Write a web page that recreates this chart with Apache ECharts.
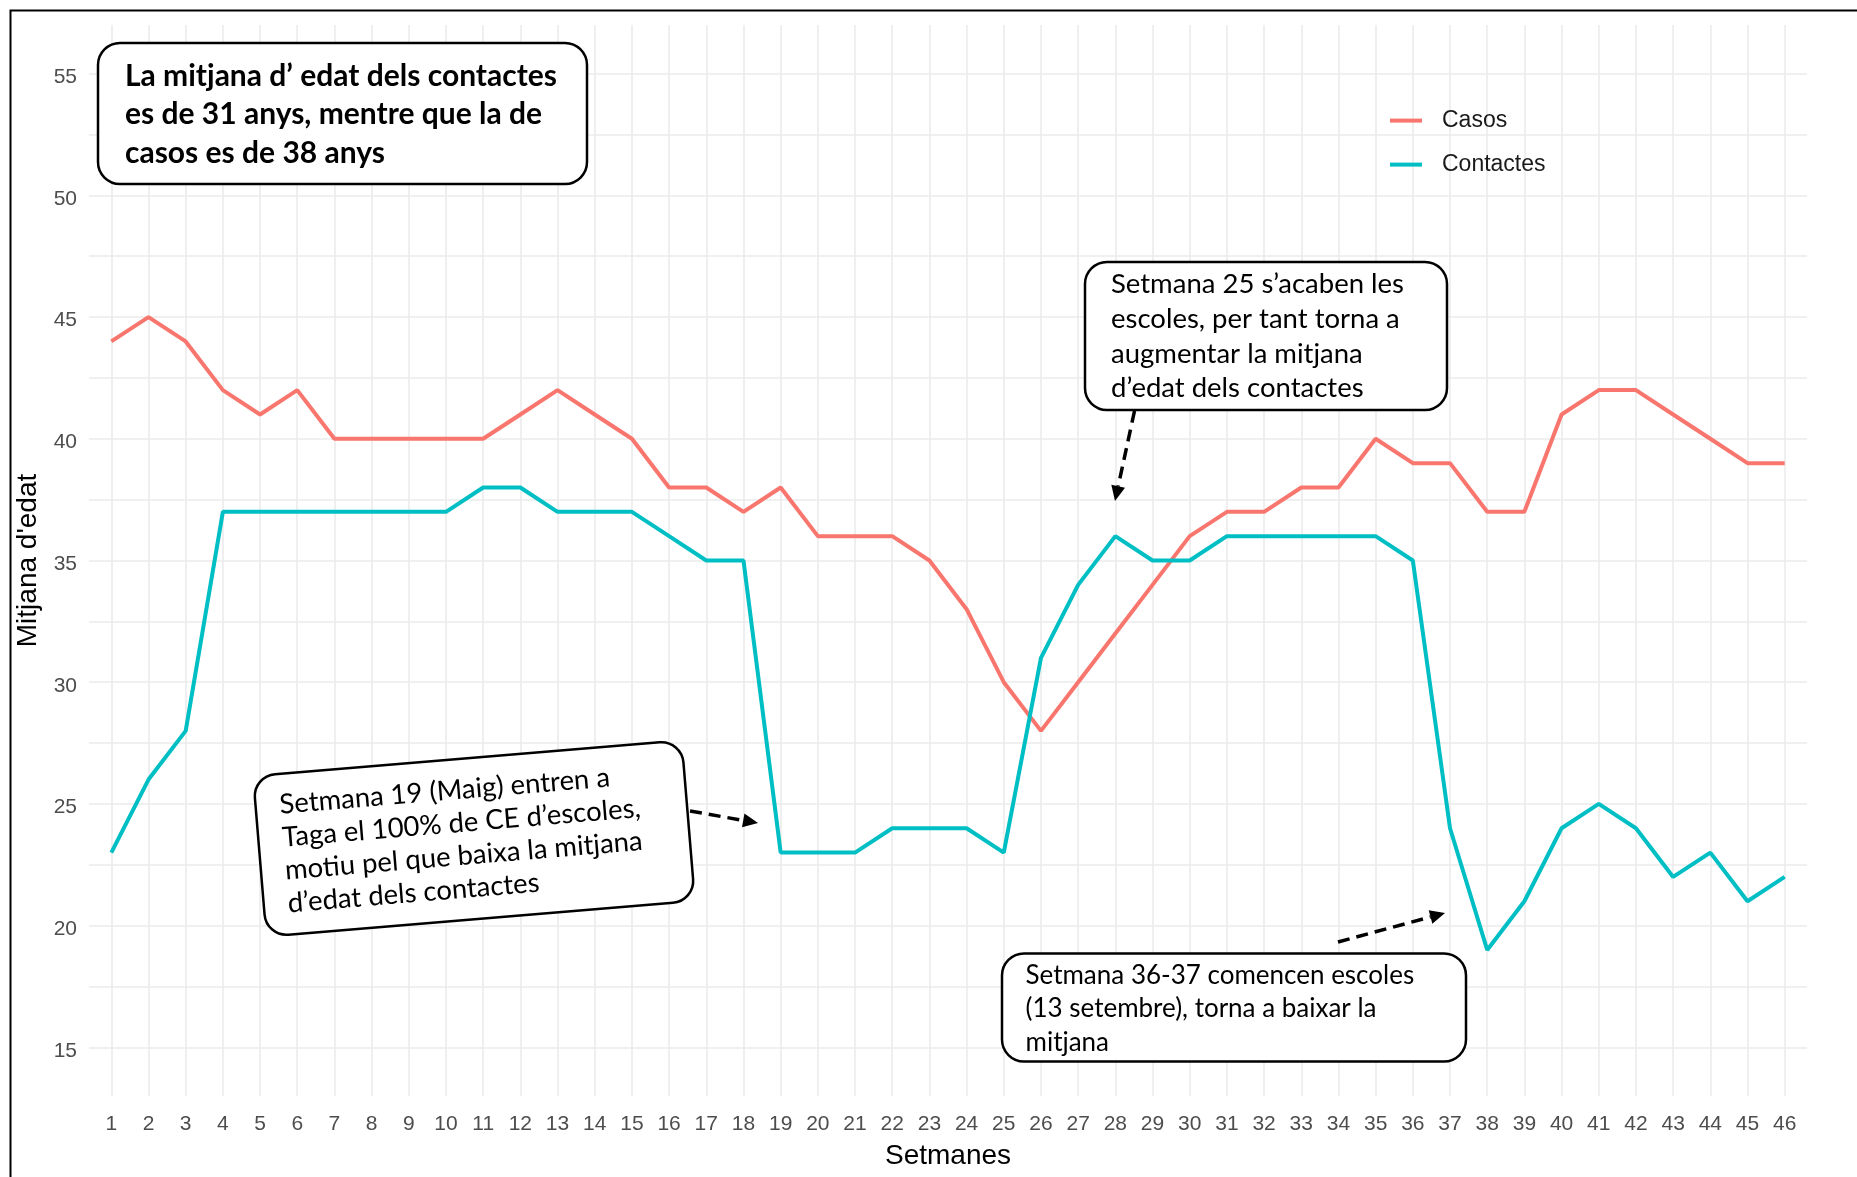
<!DOCTYPE html>
<html>
<head>
<meta charset="utf-8">
<title>Mitjana d'edat per setmana</title>
<script src="https://cdn.jsdelivr.net/npm/echarts@6/dist/echarts.min.js"></script>
<style>
  html, body { margin: 0; padding: 0; background: #fff; }
  #chart { width: 1857px; height: 1177px; }
</style>
</head>
<body>
<div id="chart"></div>
<script>
// setmanes 1..46
const weeks = [1, 2, 3, 4, 5, 6, 7, 8, 9, 10, 11, 12, 13, 14, 15, 16, 17, 18, 19, 20, 21, 22, 23,
  24, 25, 26, 27, 28, 29, 30, 31, 32, 33, 34, 35, 36, 37, 38, 39, 40, 41, 42, 43, 44, 45, 46]
const casos = [44, 45, 44, 42, 41, 42, 40, 40, 40, 40, 40, 41, 42, 41, 40, 38, 38, 37, 38, 36, 36, 36, 35,
  33, 30, 28, 30, 32, 34, 36, 37, 37, 38, 38, 40, 39, 39, 37, 37, 41, 42, 42, 41, 40, 39, 39]
const contactes = [23, 26, 28, 37, 37, 37, 37, 37, 37, 37, 38, 38, 37, 37, 37, 36, 35, 35, 23, 23, 23, 24, 24,
  24, 23, 31, 34, 36, 35, 35, 36, 36, 36, 36, 36, 35, 24, 19, 21, 24, 25, 24, 22, 23, 21, 22]
const yLabels = [15, 20, 25, 30, 35, 40, 45, 50, 55]
// major + minor grid lines
const yGrid = [15, 17.5, 20, 22.5, 25, 27.5, 30, 32.5, 35, 37.5, 40, 42.5, 45, 47.5, 50, 52.5, 55]

const axisFont = '"Liberation Sans", Arial, sans-serif'
const noteFont = 'Lato, "Open Sans", sans-serif'
const gridColor = '#ebebeb'

const chart = echarts.init(document.getElementById('chart'))

function box(x, y, w, h) {
  return {
    type: 'rect',
    z: 100,
    shape: { x: x, y: y, width: w, height: h, r: 22 },
    style: { fill: '#fff', stroke: '#000', lineWidth: 2.5 }
  }
}

function note(x, y, text, size, lh, weight) {
  return {
    type: 'text',
    z: 101,
    x: x,
    y: y,
    style: {
      text: text,
      fontSize: size,
      fontWeight: weight || 'normal',
      fontFamily: noteFont,
      fill: '#000',
      lineHeight: lh,
      align: 'left',
      verticalAlign: 'top'
    }
  }
}

// dashed arrow with a filled head
function arrow(x1, y1, x2, y2) {
  const a = Math.atan2(y2 - y1, x2 - x1)
  const len = 15
  const half = 7
  const bx = x2 - len * Math.cos(a)
  const by = y2 - len * Math.sin(a)
  return [
    {
      type: 'line',
      z: 100,
      shape: { x1: x1, y1: y1, x2: bx, y2: by },
      style: { stroke: '#000', lineWidth: 3.5, lineDash: [12, 7] }
    },
    {
      type: 'polygon',
      z: 100,
      shape: {
        points: [
          [x2, y2],
          [bx - half * Math.sin(a), by + half * Math.cos(a)],
          [bx + half * Math.sin(a), by - half * Math.cos(a)]
        ]
      },
      style: { fill: '#000' }
    }
  ]
}

const notes = [
  // marc de la imatge
  {
    type: 'rect',
    z: 100,
    shape: { x: 10.5, y: 10.5, width: 1900, height: 1200 },
    style: { fill: 'none', stroke: '#000', lineWidth: 2 }
  },
  box(98, 43, 489, 141),
  note(125, 57, 'La mitjana d\u2019 edat dels contactes\nes de 31 anys, mentre que la de\ncasos es de 38 anys', 30, 38.5, 'bold'),

  box(1085, 262, 362, 148),
  note(1111, 267, 'Setmana 25 s\u2019acaben les\nescoles, per tant torna a\naugmentar la mitjana\nd\u2019edat dels contactes', 27.5, 34.7),
  ...arrow(1134.5, 411, 1115, 501),

  {
    type: 'group',
    z: 100,
    x: 474,
    y: 838.5,
    rotation: 0.0827,
    children: [
      box(-215, -80.5, 430, 161),
      note(-191, -66, 'Setmana 19 (Maig) entren a\nTaga el 100% de CE d\u2019escoles,\nmotiu pel que baixa la mitjana\nd\u2019edat dels contactes', 27.5, 33)
    ]
  },
  ...arrow(690, 811, 758, 823),

  box(1002, 953.5, 464, 108),
  note(1025.5, 959.3, 'Setmana 36-37 comencen escoles\n(13 setembre), torna a baixar la\nmitjana', 26, 33.2),
  ...arrow(1338, 942, 1445, 913)
]

chart.setOption({
  animation: false,
  backgroundColor: '#fff',
  grid: { left: 89, right: 50, top: 25, bottom: 81 },
  legend: {
    orient: 'vertical',
    left: 1385,
    top: 102.6,
    icon: 'rect',
    itemWidth: 32,
    itemHeight: 4,
    itemGap: 18,
    textStyle: { fontSize: 23, color: '#1a1a1a', fontFamily: axisFont, lineHeight: 26, padding: [0, 0, 0, 15] },
    data: ['Casos', 'Contactes']
  },
  xAxis: {
    type: 'value',
    min: 0.4,
    max: 46.6,
    name: 'Setmanes',
    nameLocation: 'middle',
    nameGap: 46,
    nameTextStyle: { fontSize: 28, color: '#000', fontFamily: axisFont },
    axisLine: { show: false },
    axisTick: { show: false, customValues: weeks },
    axisLabel: { customValues: weeks, fontSize: 21, color: '#4d4d4d', fontFamily: axisFont, margin: 18 },
    splitLine: { show: true, lineStyle: { color: gridColor, width: 1.6 } }
  },
  yAxis: {
    type: 'value',
    min: 13,
    max: 57,
    name: 'Mitjana d\'edat',
    nameLocation: 'middle',
    nameGap: 45,
    nameTextStyle: { fontSize: 28, color: '#000', fontFamily: axisFont },
    axisLine: { show: false },
    axisTick: { show: false, customValues: yGrid },
    axisLabel: {
      customValues: yLabels,
      margin: 12,
      formatter: '{v|{value}}',
      rich: {
        v: { fontSize: 21, color: '#4d4d4d', fontFamily: axisFont, padding: [7, 0, 0, 0] }
      }
    },
    splitLine: { show: true, lineStyle: { color: gridColor, width: 1.6 } }
  },
  series: [
    {
      name: 'Casos',
      type: 'line',
      data: casos.map((v, i) => [weeks[i], v]),
      symbol: 'none',
      color: '#F8766D',
      lineStyle: { width: 4, color: '#F8766D' }
    },
    {
      name: 'Contactes',
      type: 'line',
      data: contactes.map((v, i) => [weeks[i], v]),
      symbol: 'none',
      color: '#00BFC4',
      lineStyle: { width: 4, color: '#00BFC4' }
    }
  ],
  graphic: { elements: notes }
})
</script>
</body>
</html>
